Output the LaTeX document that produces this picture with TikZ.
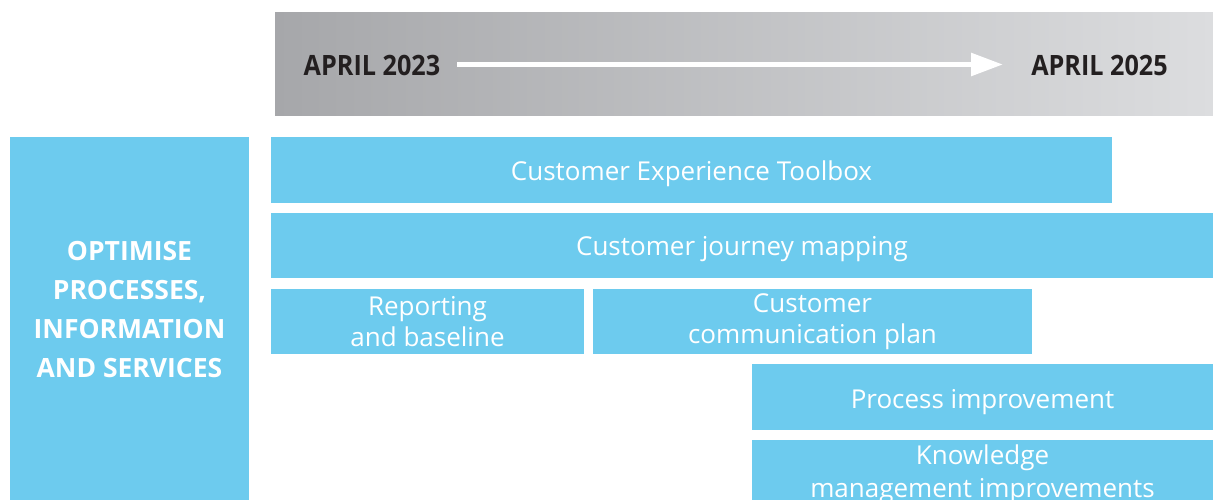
\documentclass[tikz,border=0pt]{standalone}
\usepackage{fontspec}
\setmainfont{Open Sans}
\newfontfamily\datefont[FakeStretch=0.9]{Open Sans Bold}
\usetikzlibrary{arrows.meta}
\definecolor{skyblue}{HTML}{6DCBEE}
\definecolor{bandleft}{HTML}{A6A7AA}
\definecolor{bandright}{HTML}{DCDDDF}
\definecolor{inkdark}{HTML}{231F20}
\tikzset{
  taskbox/.style={fill=skyblue, draw=none, inner sep=0pt},
  tasktext/.style={text=white, align=center, inner sep=0pt,
    font=\fontsize{26}{31}\selectfont},
  datelabel/.style={text=inkdark, inner sep=0pt, font=\datefont\fontsize{28}{30}\selectfont},
  themelabel/.style={text=white, align=center, inner sep=0pt,
    font=\bfseries\fontsize{26.5}{39}\selectfont}
}
\begin{document}
\begin{tikzpicture}[x=1pt,y=-1pt]
\useasboundingbox (0,0) rectangle (1213,500);
\clip (0,0) rectangle (1213,500);

% timeline band
\shade[left color=bandleft, right color=bandright] (275,13) rectangle (1213,116);
\node[datelabel] (start) at (372,65) {APRIL 2023};
\node[datelabel] (finish) at (1099.5,65) {APRIL 2025};
\draw[white, line width=5.5pt, -{Triangle[length=32pt,width=22pt]}]
  ([xshift=17pt,yshift=0.5pt]start.east) -- ([xshift=-28pt,yshift=0.5pt]finish.west);

% theme column
\fill[skyblue] (10,137) rectangle (249,520);
\node[themelabel] (theme) at (129.5,309.5) {OPTIMISE\\PROCESSES,\\INFORMATION\\AND SERVICES};

% workstreams
\node[taskbox, minimum width=841pt, minimum height=66pt] (toolbox) at (691.5,170) {};
\node[tasktext] at (691.5,174) {Customer Experience Toolbox};
\node[taskbox, minimum width=942pt, minimum height=65pt] (journey) at (742,245.5) {};
\node[tasktext] at (742,249.5) {Customer journey mapping};
\node[taskbox, minimum width=313pt, minimum height=65pt] (report) at (427.5,321.5) {};
\node[tasktext] at (427.5,322) {Reporting\\and baseline};
\node[taskbox, minimum width=439pt, minimum height=65pt] (comms) at (812.5,321.5) {};
\node[tasktext] at (812.5,322) {Customer\\communication plan};
\node[taskbox, minimum width=461pt, minimum height=66pt] (process) at (982.5,397) {};
\node[tasktext] at (982.5,402) {Process improvement};
\fill[skyblue] (752,440) rectangle (1213,520);
\node[tasktext, font=\fontsize{26}{33}\selectfont] (knowledge) at (982.5,474.5) {Knowledge\\management improvements};
\end{tikzpicture}
\end{document}
